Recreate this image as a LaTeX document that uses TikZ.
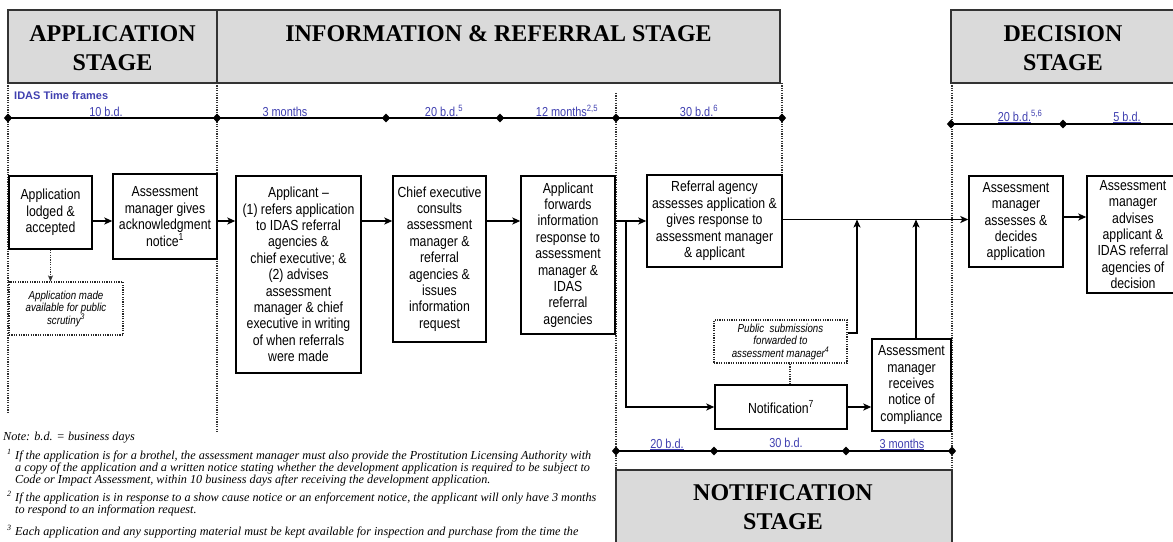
\documentclass[tikz,border=0pt]{standalone}
\usepackage{fontspec}
\setmainfont{Liberation Serif}
\setsansfont{Liberation Sans}
\newfontfamily\boxsans{Liberation Sans}[FakeStretch=0.84,Ligatures=TeX]
\usetikzlibrary{arrows.meta,shapes.geometric,calc}
\definecolor{hdrgray}{RGB}{218,218,218}
\definecolor{tfblue}{RGB}{64,64,176}
\begin{document}
\begin{tikzpicture}[x=1pt,y=-1pt,
  stage/.style={draw=black!80, line width=1.3pt, fill=hdrgray, inner sep=0pt},
  stagetext/.style={font=\fontsize{24}{30}\selectfont\bfseries, anchor=base, inner sep=0pt},
  stepbox/.style={draw, line width=1.4pt, font=\boxsans\fontsize{14.6}{16.4}\selectfont, align=center, inner sep=1pt},
  notebox/.style={draw=black!85, line width=1.1pt, dash pattern=on 1.2pt off 1.2pt,
    font=\boxsans\itshape\fontsize{11.6}{12.5}\selectfont, align=center, inner sep=1pt},
  rule/.style={draw=black!80, line width=1.1pt, dash pattern=on 1.2pt off 1.2pt},
  tick/.style={diamond, fill=black, inner sep=0pt, minimum width=8.5pt, minimum height=9pt},
  tline/.style={line width=1.5pt},
  tlabel/.style={text=tfblue, font=\boxsans\fontsize{13}{14}\selectfont, anchor=base, inner sep=0pt},
  arr/.style={line width=1.4pt, -{Stealth[length=8pt,width=7pt,inset=2pt]}},
  dotarr/.style={rule, -{Stealth[length=6pt,width=5pt,inset=1.5pt]}},
  fnote/.style={font=\fontsize{12.2}{12}\selectfont\itshape, anchor=base west, inner sep=0pt},
  fmark/.style={font=\fontsize{8}{8}\selectfont\itshape, anchor=base west, inner sep=0pt},
]
\useasboundingbox (0,0) rectangle (1173,541);
\clip (0,0) rectangle (1173,541);

% ---------- stage headers ----------
\node[stage, minimum width=209, minimum height=73] (hApp) at (112.5,46.5) {};
\node[stage, minimum width=563, minimum height=73] (hInf) at (498.5,46.5) {};
\node[stage, minimum width=228, minimum height=73] (hDec) at (1065,46.5) {};
\node[stage, minimum width=336, minimum height=100] (hNot) at (784,520) {};

\node[stagetext] (tApp1) at (112.5,41) {APPLICATION};
\node[stagetext] (tApp2) at (112.5,70) {STAGE};
\node[stagetext] (tInf)  at (498.5,41) {INFORMATION \& REFERRAL STAGE};
\node[stagetext] (tDec1) at (1063,41) {DECISION};
\node[stagetext] (tDec2) at (1063,70) {STAGE};
\node[stagetext] (tNot1) at (783,500) {NOTIFICATION};
\node[stagetext] (tNot2) at (783,529) {STAGE};

% ---------- stage boundaries (dotted) ----------
\coordinate (v1a) at (8,83);    \coordinate (v1b) at (8,413);
\coordinate (v2a) at (217,83);  \coordinate (v2b) at (217,433);
\coordinate (v3a) at (616,93);  \coordinate (v3b) at (616,470);
\coordinate (v4a) at (782,83);  \coordinate (v4b) at (782,175);
\coordinate (v5a) at (952,83);  \coordinate (v5b) at (952,470);
\draw[rule] (v1a) -- (v1b);
\draw[rule] (v2a) -- (v2b);
\draw[rule] (v3a) -- (v3b);
\draw[rule] (v4a) -- (v4b);
\draw[rule] (v5a) -- (v5b);

% ---------- time frames ----------
\node[tlabel, anchor=base west, font=\sffamily\bfseries\fontsize{11}{13}\selectfont] (idas) at (14,99) {IDAS Time frames};

\node[tick] (a0) at (8,118) {};
\node[tick] (a1) at (217,118) {};
\node[tick] (a2) at (386,118) {};
\node[tick] (a3) at (500,118) {};
\node[tick] (a4) at (616,118) {};
\node[tick] (a5) at (782,118) {};
\draw[tline] (a0.center) -- (a5.center);

\node[tick] (b0) at (951,124) {};
\node[tick] (b1) at (1063,124) {};
\coordinate (bEnd) at (1180,124);
\draw[tline] (b0.center) -- (bEnd);

\node[tick] (c0) at (616,451) {};
\node[tick] (c1) at (714,451) {};
\node[tick] (c2) at (846,451) {};
\node[tick] (c3) at (952,451) {};
\draw[tline] (c0.center) -- (c3.center);

\node[tlabel] (l1) at (106,116) {10 b.d.};
\node[tlabel] (l2) at (285,116) {3 months};
\node[tlabel] (l3) at (444,116) {20 b.d.\textsuperscript{5}};
\node[tlabel] (l4) at (567,116) {12 months\textsuperscript{2,5}};
\node[tlabel] (l5) at (699,116) {30 b.d.\textsuperscript{6}};
\node[tlabel] (l6) at (1020,121) {\underline{20 b.d.}\textsuperscript{5,6}};
\node[tlabel] (l7) at (1127,121) {\underline{5 b.d.}};
\node[tlabel] (l8) at (667,448) {\underline{20 b.d.}};
\node[tlabel] (l9) at (786,447) {30 b.d.};
\node[tlabel] (l10) at (902,448) {\underline{3 months}};

% ---------- process steps ----------
\node[stepbox, minimum width=83, minimum height=73] (lodged) at (50.5,212.5)
  {Application\\lodged \&\\accepted};
\node[stepbox, minimum width=104, minimum height=85] (ack) at (165,216.5)
  {Assessment\\manager gives\\acknowledgment\\notice\textsuperscript{1}};
\node[stepbox, minimum width=125, minimum height=197] (refers) at (298.5,274.5)
  {Applicant –\\(1) refers application\\to IDAS referral\\agencies \&\\chief executive; \&\\(2) advises\\assessment\\manager \& chief\\executive in writing\\of when referrals\\were made};
\node[stepbox, minimum width=93, minimum height=166] (consult) at (439.5,259)
  {Chief executive\\consults\\assessment\\manager \&\\referral\\agencies \&\\issues\\information\\request};
\node[stepbox, minimum width=94, minimum height=158] (forward) at (568,255)
  {Applicant\\forwards\\information\\response to\\assessment\\manager \&\\IDAS\\referral\\agencies};
\node[stepbox, minimum width=135, minimum height=92] (agency) at (714.5,221)
  {Referral agency\\assesses application \&\\gives response to\\assessment manager\\\& applicant};
\node[stepbox, minimum width=94, minimum height=91] (decide) at (1016,221.5)
  {Assessment\\manager\\assesses \&\\decides\\application};
\node[stepbox, minimum width=92, minimum height=117] (advise) at (1133,234.5)
  {Assessment\\manager\\advises\\applicant \&\\IDAS referral\\agencies of\\decision};
\node[stepbox, minimum width=132, minimum height=44] (notif) at (781,407)
  {Notification\textsuperscript{7}};
\node[stepbox, minimum width=79, minimum height=92] (comply) at (911.5,385)
  {Assessment\\manager\\receives\\notice of\\compliance};

\node[notebox, minimum width=114, minimum height=53] (scrutiny) at (66,308.5)
  {Application made\\available for public\\scrutiny\textsuperscript{3}};
\node[notebox, minimum width=133, minimum height=43] (public) at (780.5,341.5)
  {Public\ \ submissions\\forwarded to\\assessment manager\textsuperscript{4}};

% ---------- connectors ----------
\coordinate (r1) at (0,221);
\coordinate (r2) at (0,219.5);
\coordinate (r3) at (0,217);
\coordinate (r4) at (0,333);
\coordinate (j1) at (626,221);
\coordinate (m1) at (857,219.5);
\coordinate (m2) at (916,219.5);
\coordinate (k1) at (790,0);

\draw[arr] (lodged.east |- r1) -- (ack.west |- r1);
\draw[arr] (ack.east |- r1) -- (refers.west |- r1);
\draw[arr] (refers.east |- r1) -- (consult.west |- r1);
\draw[arr] (consult.east |- r1) -- (forward.west |- r1);
\draw[arr] (forward.east |- r1) -- (agency.west |- r1);
\draw[arr] (j1) |- (notif.west);
\draw[arr] (agency.east |- r2) -- (decide.west |- r2);
\draw[arr] (public.east |- r4) -| (m1);
\draw[arr] (comply.north -| m2) -- (m2);
\draw[arr] (notif.east) -- (comply.west |- notif.east);
\draw[arr] (decide.east |- r3) -- (advise.west |- r3);
\draw[rule] (notif.north -| k1) -- (public.south -| k1);
\draw[dotarr] (lodged.south) -- (scrutiny.north -| lodged.south);

% ---------- notes ----------
\node[fnote] (n0) at (3,440) {Note: b.d. = business days};
\node[fmark] (f1) at (7,454) {1};
\node[fnote] (n1a) at (15,459) {If the application is for a brothel, the assessment manager must also provide the Prostitution Licensing Authority with};
\node[fnote] (n1b) at (15,471) {a copy of the application and a written notice stating whether the development application is required to be subject to};
\node[fnote] (n1c) at (15,483) {Code or Impact Assessment, within 10 business days after receiving the development application.};
\node[fmark] (f2) at (7,496) {2};
\node[fnote] (n2a) at (15,501) {If the application is in response to a show cause notice or an enforcement notice, the applicant will only have 3 months};
\node[fnote] (n2b) at (15,513) {to respond to an information request.};
\node[fmark] (f3) at (7,530) {3};
\node[fnote] (n3a) at (15,535) {Each application and any supporting material must be kept available for inspection and purchase from the time the};
\end{tikzpicture}
\end{document}
